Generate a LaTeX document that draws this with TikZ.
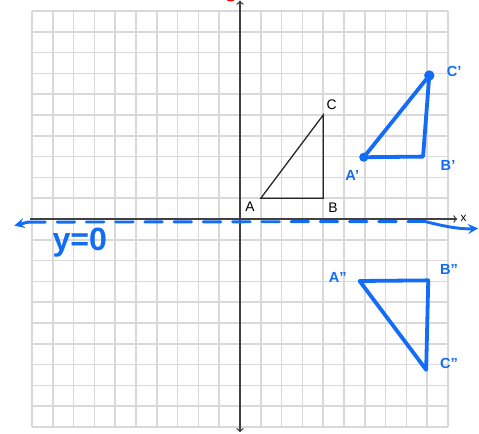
\documentclass[tikz,border=0pt]{standalone}
\usepackage{fontspec}
\setsansfont{Liberation Sans}
\usetikzlibrary{arrows,positioning,calc}

\definecolor{penblue}{RGB}{18,108,245}
\tikzset{
  gridline/.style={gray!30, line width=1pt},
  axisline/.style={black!75, line width=0.9pt},
  pen/.style={penblue, line width=2.6pt, line cap=round, line join=round},
  penlabel/.style={penblue, font=\sffamily\bfseries\fontsize{10}{12}\selectfont},
  ptlabel/.style={font=\sffamily\fontsize{9.5}{11}\selectfont},
}

\begin{document}
\begin{tikzpicture}[x=0.5cm,y=0.5cm]
\useasboundingbox (-11.538,-10.288) rectangle (11.490,10.529);

% Grid
\draw[gridline, step={(1,1)}] (-10,-10) grid (10,10);

% Axes
\draw[axisline,<->] (0,-10.25) -- (0,10.5);
\draw[axisline,->] (-10.1,0) -- (10.45,0);
\node[font=\sffamily\fontsize{8}{9}\selectfont] (xlab) at (10.75,0.05) {x};
\fill[red] (-0.45,10.58) ellipse (0.22 and 0.12);

% Triangle ABC
\coordinate (A) at (1,1);
\coordinate (B) at (4,1);
\coordinate (C) at (4,5);
\draw[black!85, line width=0.9pt] (A) -- (B) -- (C) -- cycle;
\node[ptlabel] (labA) at (0.48,0.58) {A};
\node[ptlabel] (labB) at (4.47,0.53) {B};
\node[ptlabel] (labC) at (4.41,5.48) {C};

% Line of reflection y=0
\coordinate (lineL) at (-10.85,-0.32);
\coordinate (lineS) at (-10.2,-0.15);
\coordinate (lineE) at (8.9,-0.12);
\coordinate (lineR) at (11.45,-0.45);
\draw[pen, line width=2pt, dash pattern=on 12pt off 8pt] (lineS) -- (lineE);
\draw[pen, line width=2pt, -stealth] (lineE) .. controls (9.8,-0.35) and (10.6,-0.5) .. (lineR);
\draw[pen, line width=2pt, -stealth] (lineS) -- (lineL);
\node[penblue, font=\sffamily\bfseries\fontsize{22}{24}\selectfont] (ylab) at (-7.7,-1.15) {y=0};

% Image A'B'C'
\coordinate (A1) at (5.95,2.97);
\coordinate (B1) at (8.8,3.0);
\coordinate (C1) at (9.1,6.9);
\draw[pen] (A1) -- (B1) -- (C1) -- cycle;
\fill[penblue] (A1) circle (0.22);
\fill[penblue] (C1) circle (0.25);
\node[penlabel] (labA1) at (5.4,2.1) {A'};
\node[penlabel] (labB1) at (10.0,2.55) {B'};
\node[penlabel] (labC1) at (10.3,7.1) {C'};

% Image A''B''C''
\coordinate (A2) at (5.75,-2.98);
\coordinate (B2) at (9.05,-2.95);
\coordinate (C2) at (8.95,-7.25);
\draw[pen] (A2) -- (B2) -- (C2) -- cycle;
\node[penlabel] (labA2) at (4.7,-2.8) {A''};
\node[penlabel] (labB2) at (10.05,-2.45) {B''};
\node[penlabel] (labC2) at (10.05,-6.95) {C''};
\end{tikzpicture}
\end{document}
